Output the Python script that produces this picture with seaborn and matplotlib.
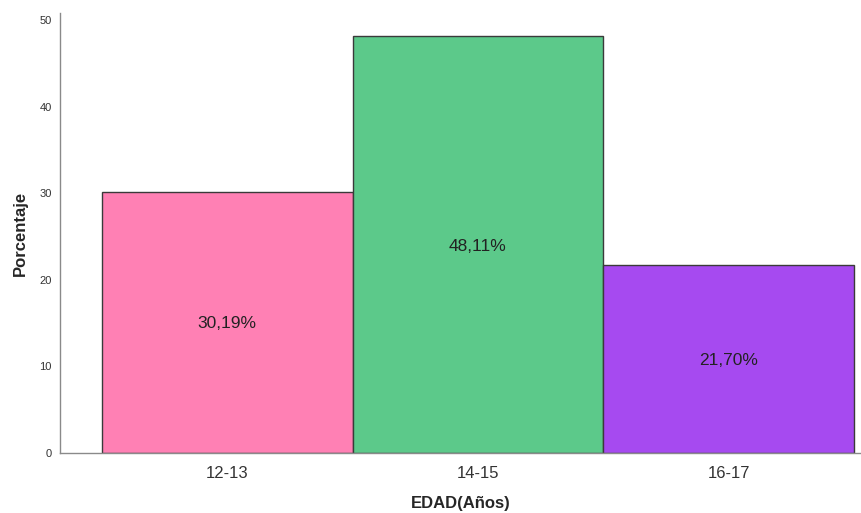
import matplotlib
matplotlib.use("Agg")
import matplotlib.pyplot as plt
import seaborn as sns
import pandas as pd

categorias = ["12-13", "14-15", "16-17"]
porcentajes = [30.19, 48.11, 21.70]
colores = ["#FF80B4", "#5CC98A", "#A64AF0"]
y_ticks = [0, 10, 20, 30, 40, 50]

sns.set_theme(style="white")
plt.rcParams["font.family"] = ["Liberation Sans", "DejaVu Sans"]

df = pd.DataFrame({"EDAD": categorias, "Porcentaje": porcentajes})

fig = plt.figure(figsize=(8.62, 5.13), dpi=100)
ax = fig.add_axes([60 / 862, 60 / 513, 802 / 862, 440 / 513])

sns.barplot(data=df, x="EDAD", y="Porcentaje", hue="EDAD",
            palette=colores, width=1.0, edgecolor="#3a3a3a",
            linewidth=1.0, saturation=1, legend=False, ax=ax)

for patch, val in zip(ax.patches, porcentajes):
    cx = patch.get_x() + patch.get_width() / 2
    ax.text(cx, val / 2, f"{val:.2f}%".replace(".", ","),
            ha="center", va="center_baseline", fontsize=12.5, color="#222222")

ax.set_xlim(-0.6676, 2.532)
ax.set_ylim(0, 50.8)
ax.set_yticks(y_ticks)
ax.set_yticklabels([str(t) for t in y_ticks], fontsize=8, color="#333333")
ax.tick_params(axis="x", labelsize=12, labelcolor="#333333", length=0, pad=9)
ax.tick_params(axis="y", length=0, pad=6)

for side in ("top", "right"):
    ax.spines[side].set_visible(False)
for side in ("left", "bottom"):
    ax.spines[side].set_color("#8a8a8a")
    ax.spines[side].set_linewidth(1.0)

ax.set_xlabel("EDAD(Años)", fontsize=12, fontweight="bold", labelpad=11)
ax.set_ylabel("Porcentaje", fontsize=12, fontweight="bold", labelpad=8)

fig.savefig("out.png", dpi=100)
